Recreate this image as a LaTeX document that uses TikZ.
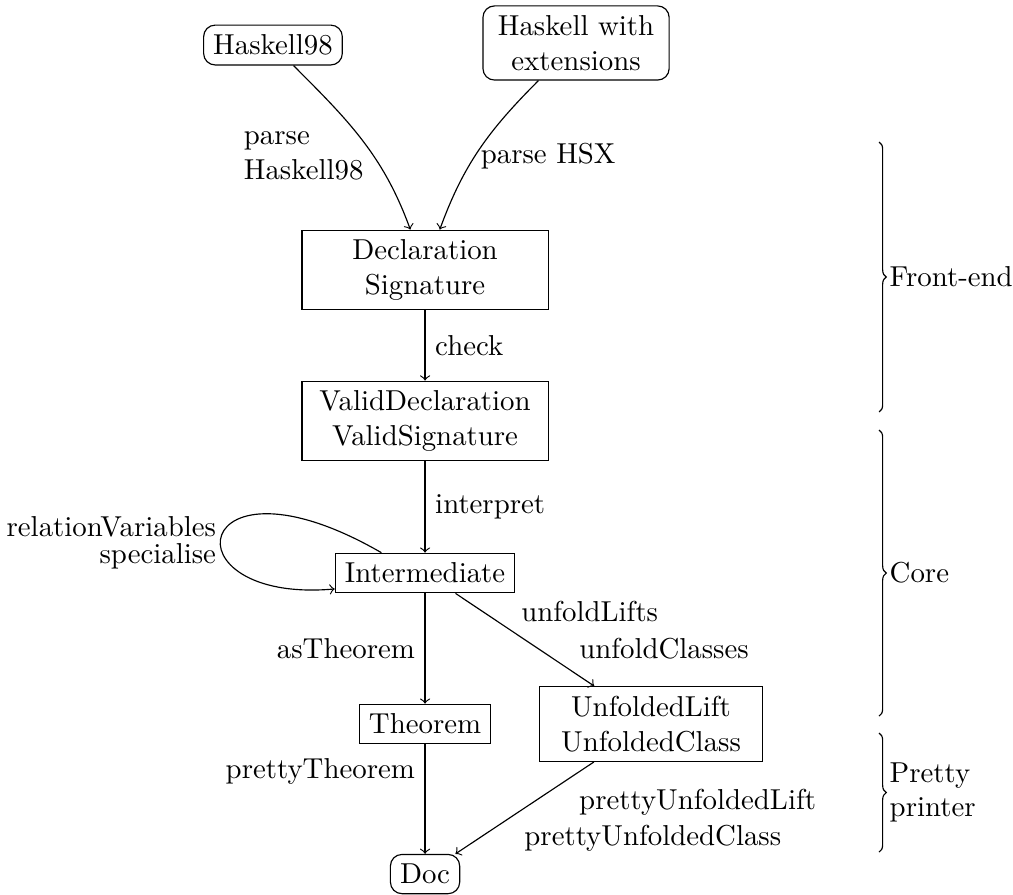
\documentclass[tikz,border=0pt]{standalone}
\usetikzlibrary{decorations.pathreplacing}

\begin{document}
\begin{tikzpicture}[
	>=to,
	block/.style={draw, rectangle, align=center},
	source/.style={draw, rectangle, rounded corners, align=center},
	part/.style={decorate, decoration={brace, amplitude=2.5pt}},
	]
	%%%%% START %%%%%
	\useasboundingbox (0, 0) rectangle (12.35, -10.911);
	
	\node[source] (h98) at (3.328, -0.549) {Haskell98};
	\node[source, minimum width=2.27cm] (hsx) at (7.023, -0.524) {Haskell with\\extensions};
	
	\node[block, minimum width=3cm] (decl) at (5.182, -3.292) {Declaration\\Signature};
	\node[block, minimum width=3cm] (valid) at (5.182, -5.133) {ValidDeclaration\\ValidSignature};
	\node[block] (inter) at (5.182, -6.986) {Intermediate};
	\node[block] (thm) at (5.182, -8.827) {Theorem};
	\node[block, minimum width=2.72cm] (unf) at (7.937, -8.827) {UnfoldedLift\\UnfoldedClass};
	\node[source] (doc) at (5.182, -10.656) {Doc};
	
	\draw[->] (h98) to[out=-45, in=110] node[pos=0.6, left, align=left] (parse98) {parse\\Haskell98} (decl);
	\draw[->] (hsx) to[out=-135, in=70] node[pos=0.55, right, xshift=-1.5pt] (parsehsx) {parse HSX} (decl);
	\draw[->] (decl) -- node[right] (check) {check} (valid);
	\draw[->] (valid) -- node[right] (interp) {interpret} (inter);
	\draw[->] (inter.155) .. controls +(150:2.7) and +(185:2.1) .. node[pos=0.55, left, xshift=2pt, align=right] (spec) {relationVariables\\[-2.5pt]specialise} (inter.190);
	\draw[->] (inter) -- node[left] (asthm) {asTheorem} (thm);
	\draw[->] (inter) -- node[pos=0.2, right=0.34cm] (unflift) {unfoldLifts} node[pos=0.6, right=0.37cm] (unfclass) {unfoldClasses} (unf);
	\draw[->] (thm) -- node[pos=0.25, left] (prettythm) {prettyTheorem} (doc);
	\draw[->] (unf) -- node[pos=0.44, right=0.44cm] (prettylift) {prettyUnfoldedLift} node[pos=0.83, right=0.43cm] (prettyclass) {prettyUnfoldedClass} (doc);
	
	% phases
	\draw[part] (10.717, -1.731) -- (10.717, -5.023) node[midway, right=3.5pt, inner sep=0pt] (front) {Front-end};
	\draw[part] (10.717, -5.243) -- (10.717, -8.730) node[midway, right=3.5pt, inner sep=0pt] (core) {Core};
	\draw[part] (10.717, -8.937) -- (10.717, -10.388) node[midway, right=3.5pt, inner sep=0pt, align=left] (printer) {Pretty\\printer};
	
	%%%%% END %%%%%
\end{tikzpicture}
\end{document}
